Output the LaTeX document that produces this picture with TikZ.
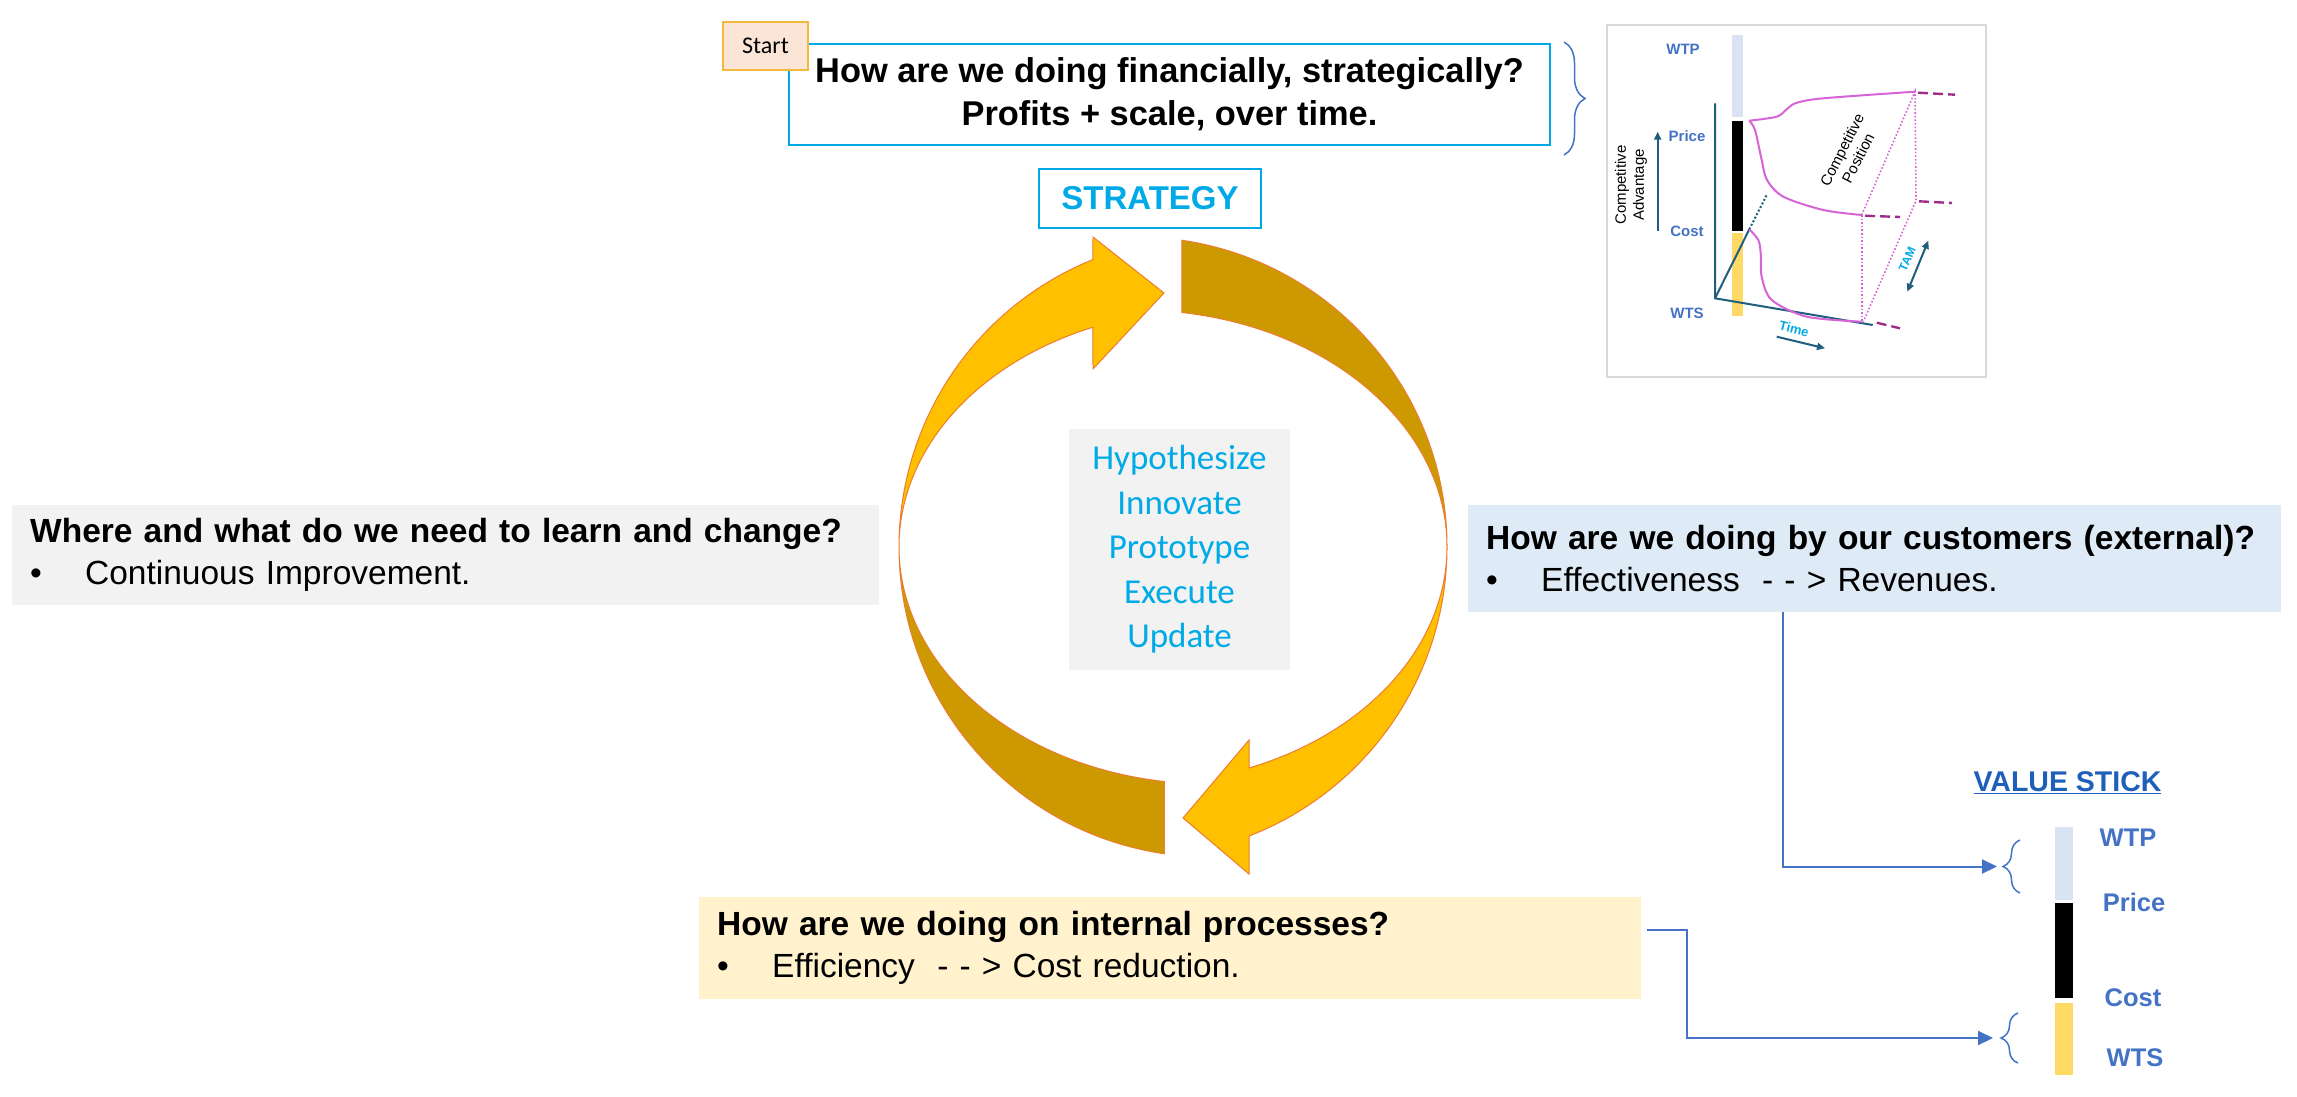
\documentclass[tikz,border=0pt]{standalone}
\usepackage{fontspec}
\setmainfont{Liberation Sans}
\newfontfamily\calibri{Carlito}
\usetikzlibrary{calc, arrows.meta, decorations.pathreplacing}

\definecolor{skyline}{RGB}{0,170,230}
\definecolor{gold}{RGB}{255,192,0}
\definecolor{darkgold}{RGB}{204,153,0}
\definecolor{rim}{RGB}{237,125,49}
\definecolor{linkblue}{RGB}{68,114,196}
\definecolor{titleblue}{RGB}{30,95,185}
\definecolor{stickblue}{RGB}{218,227,243}
\definecolor{stickyellow}{RGB}{255,217,102}
\definecolor{axisteal}{RGB}{31,95,125}
\definecolor{orchid}{RGB}{214,100,214}
\definecolor{plum}{RGB}{160,45,140}
\definecolor{softgray}{RGB}{242,242,242}
\definecolor{paleblue}{RGB}{222,235,247}
\definecolor{paleyellow}{RGB}{255,242,204}
\definecolor{peach}{RGB}{251,229,214}
\definecolor{startrim}{RGB}{242,185,60}

\begin{document}
\begin{tikzpicture}[x=1pt, y=1pt,
		qbox/.style={anchor=north west, inner xsep=18pt, inner ysep=0pt, align=left,
			font=\fontsize{33.5}{42}\selectfont},
		ring/.style={draw=rim, line width=1pt},
		stick/.style={text=linkblue, font=\bfseries\fontsize{25.5}{30}\selectfont},
		minilab/.style={text=linkblue, font=\bfseries\fontsize{15}{18}\selectfont},
		link/.style={linkblue, line width=2pt, -{Triangle[length=15pt, width=14pt]}},
		bracket/.style={linkblue, line width=1.5pt, decorate}]
	\useasboundingbox (0,0) rectangle (2297,-1097);
	\fill[white] (0,0) rectangle (2297,-1097);

	\def\R{310}
	\def\Ri{237}

	\node[qbox, fill=softgray, minimum width=867, minimum height=100, text width=831] (learnbox) at (12,-505)
		{\textbf{Where and what do we need to learn and change?}\\\makebox[55pt][l]{\textbullet}Continuous Improvement.};
	\node[qbox, fill=paleblue, minimum width=813, minimum height=107, text width=777] (custbox) at (1468,-505)
		{\textbf{How are we doing by our customers (external)?}\\\makebox[55pt][l]{\textbullet}Effectiveness~ - - > Revenues.};
	\node[qbox, fill=paleyellow, minimum width=942, minimum height=102, text width=906] (procbox) at (699,-897)
		{\textbf{How are we doing on internal processes?}\\\makebox[55pt][l]{\textbullet}Efficiency~ - - > Cost reduction.};

	\node[draw=skyline, line width=2pt, minimum width=761, minimum height=101, align=center,
		font=\bfseries\fontsize{34.4}{43}\selectfont] (finbox) at (1169.5,-94.5)
		{How are we doing financially, strategically?\\Profits + scale, over time.};
	\node[draw=startrim, fill=peach, line width=2pt, minimum width=85.6, minimum height=48.3,
		font=\calibri\fontsize{24}{28}\selectfont] (start) at (765.5,-46) {Start};
	\node[draw=skyline, fill=white, line width=2pt, minimum width=222, minimum height=59, text=skyline,
		font=\bfseries\fontsize{33}{38}\selectfont] (strategy) at (1150,-198.5) {STRATEGY};
	\node[fill=softgray, minimum width=221, minimum height=241, align=center, text=skyline,
		font=\calibri\fontsize{35}{44.5}\selectfont] (steps) at (1179.5,-549.5)
		{Hypothesize\\Innovate\\Prototype\\Execute\\Update};

	\begin{scope}
		\coordinate (cl) at (1209,-547);
		\coordinate (cr) at (1137,-547);
		\filldraw[ring, fill=darkgold] ($(cl)+(180:\R)$) arc[start angle=180, end angle=261.7, radius=\R]
			-- ($(cl)+(261.7:310 and 237)$) arc[start angle=261.7, end angle=180, x radius=\R, y radius=\Ri] -- cycle;
		\filldraw[ring, fill=gold] ($(cl)+(112:\R)$) arc[start angle=112, end angle=180, radius=\R]
			arc[start angle=180, end angle=112, x radius=\R, y radius=\Ri]
			-- (1093,-369) -- (1164,-293) -- (1093,-237) -- cycle;
		\filldraw[ring, fill=darkgold] ($(cr)+(81.7:\R)$) arc[start angle=81.7, end angle=0, radius=\R]
			arc[start angle=0, end angle=81.7, x radius=\R, y radius=\Ri] -- cycle;
		\filldraw[ring, fill=gold] ($(cr)+(0:\R)$) arc[start angle=0, end angle=-68.8, radius=\R]
			-- (1249,-874) -- (1183,-818) -- (1249,-740)
			-- ($(cr)+(-68.8:310 and 237)$) arc[start angle=-68.8, end angle=0, x radius=\R, y radius=\Ri] -- cycle;
	\end{scope}

	\draw[bracket, decoration={brace, amplitude=21pt}] (1564,-42) -- (1564,-155);

	\begin{scope}
		\draw[gray!30, fill=white, line width=1.5pt] (1607,-25) rectangle (1986,-377);
		\fill[stickblue] (1731.7,-35) rectangle (1742.7,-116.7);
		\fill[black] (1731.7,-120.7) rectangle (1742.7,-230.7);
		\fill[stickyellow] (1731.7,-233.3) rectangle (1742.7,-316);
		\node[minilab] (wtpA) at (1683,-49) {WTP};
		\node[minilab] (priceA) at (1687,-136) {Price};
		\node[minilab] (costA) at (1687,-231) {Cost};
		\node[minilab] (wtsA) at (1687,-313) {WTS};
		\node[rotate=90, align=center, font=\fontsize{15}{18}\selectfont] (advtxt) at (1631,-185) {Competitive\\Advantage};
		\draw[axisteal, line width=2pt, -{Triangle[length=8pt, width=7pt]}] (1657.7,-230.7) -- (1657.7,-131.7);
		\draw[axisteal, line width=2pt] (1715,-103.3) -- (1715,-298.3) -- (1872.7,-325);
		\draw[axisteal, line width=2pt] (1715,-298.3) -- (1749.3,-229.3);
		\draw[axisteal, line width=2pt, dotted] (1749.3,-229.3) -- (1766.7,-195);
		\draw[orchid, line width=2pt] plot[smooth] coordinates {(1749.3,-120.7) (1776.7,-116.7) (1786.7,-109.3) (1796,-103) (1823.3,-98.3) (1915,-91.7)};
		\draw[orchid, line width=2pt] plot[smooth] coordinates {(1749.3,-120.7) (1755,-130) (1761.7,-160) (1767,-180) (1783.3,-196.7) (1823.3,-210) (1861.7,-215)};
		\draw[orchid, line width=2pt] plot[smooth] coordinates {(1749.3,-229.3) (1758.3,-240) (1760.7,-253.3) (1761.7,-276.7) (1771.7,-300) (1806.7,-316.7) (1861.7,-321.7)};
		\draw[orchid, line width=1.6pt, dotted] (1861.7,-215) -- (1915,-91.7) -- (1916,-200.7) -- (1863.3,-321.7);
		\draw[orchid, line width=1.6pt, dotted] (1861.7,-215) -- (1861.7,-321.7);
		\begin{scope}[plum, line width=2.4pt, dash pattern=on 10pt off 5pt]
			\draw (1918,-92.7) -- (1955,-94.7);
			\draw (1919,-201.3) -- (1952,-203);
			\draw (1865,-215.7) -- (1900,-217);
			\draw (1876.7,-322.7) -- (1900,-328.3);
		\end{scope}
		\node[rotate=63, align=center, font=\fontsize{15}{18}\selectfont] (postxt) at (1850,-154) {Competitive\\Position};
		\node[rotate=66, text=skyline, font=\bfseries\fontsize{12}{14}\selectfont] (tamtxt) at (1907.3,-259) {TAM};
		\draw[axisteal, line width=2pt, {Triangle[length=8pt, width=7pt]}-{Triangle[length=8pt, width=7pt]}] (1907.3,-291.7) -- (1928.3,-240.7);
		\node[rotate=-14, text=skyline, font=\bfseries\fontsize{13}{15}\selectfont] (timetxt) at (1794,-329) {Time};
		\draw[axisteal, line width=2pt, -{Triangle[length=8pt, width=7pt]}] (1776.7,-336.7) -- (1825,-348.3);
	\end{scope}

	\begin{scope}
		\node[text=titleblue, font=\bfseries\fontsize{28.5}{32}\selectfont] (vstitle) at (2067.5,-783) {\underline{VALUE STICK}};
		\fill[stickblue] (2055,-827) rectangle (2073,-900);
		\fill[black] (2055,-903) rectangle (2073,-998);
		\fill[stickyellow] (2055,-1003) rectangle (2073,-1075);
		\node[stick] (wtpB) at (2128,-838) {WTP};
		\node[stick] (priceB) at (2134,-902) {Price};
		\node[stick] (costB) at (2133,-998) {Cost};
		\node[stick] (wtsB) at (2135,-1058) {WTS};
		\draw[bracket, decoration={brace, amplitude=17pt}] (2020,-893) -- (2020,-840);
		\draw[bracket, decoration={brace, amplitude=17pt}] (2018,-1063) -- (2018,-1013);
		\coordinate (wtpgap) at (1997,-866.5);
		\coordinate (wtsgap) at (1993,-1038);
	\end{scope}

	\draw[link] ([xshift=315pt]custbox.south west) |- (wtpgap);
	\draw[link] ([xshift=6pt, yshift=-33pt]procbox.north east) -- ++(40,0) |- (wtsgap);
\end{tikzpicture}
\end{document}
